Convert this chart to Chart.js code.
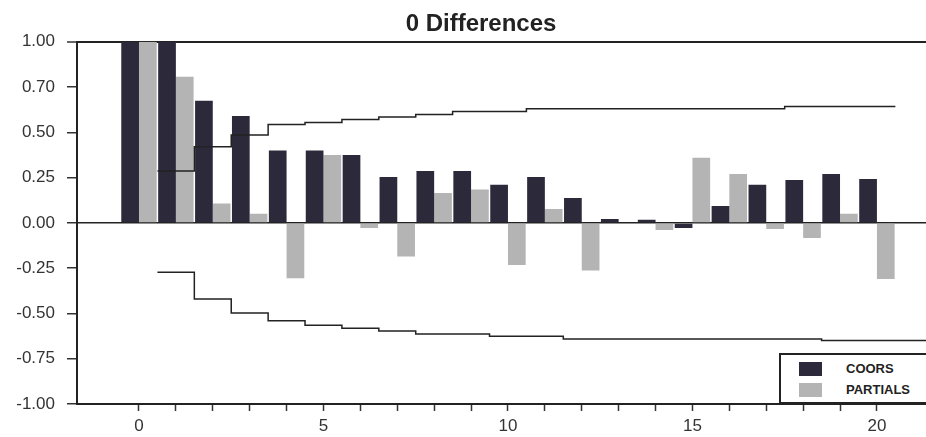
<!DOCTYPE html>
<html>
<head>
<meta charset="utf-8">
<script src="https://cdn.jsdelivr.net/npm/chart.js@4.4.0/dist/chart.umd.min.js"></script>
<style>
    body { margin: 0; background: #fff; }
    #wrap { position: relative; width: 926px; height: 437px; }
    #legenda { position: absolute; left: 779px; top: 353px; width: 160px; height: 47px; border: 2px solid #222; background: #fff;
               font: bold 13px "Liberation Sans", Arial, sans-serif; color: #222; }
    #legenda .item { position: absolute; left: 18px; height: 14px; line-height: 14px; white-space: nowrap; }
    #legenda .cor { display: inline-block; width: 23px; height: 14px; vertical-align: top; margin-right: 24px; }
</style>
</head>
<body>
<div id="wrap">
    <canvas id="mycanvas"></canvas>
    <div id="legenda"></div>
</div>
<script>
// lags
var lags = [0, 1, 2, 3, 4, 5, 6, 7, 8, 9, 10, 11, 12, 13, 14, 15, 16, 17, 18, 19, 20];
var coors = [1.00, 1.00, 0.675, 0.59, 0.40, 0.40, 0.375, 0.254, 0.287, 0.287, 0.21, 0.254, 0.138, 0.022, 0.018, -0.028, 0.094, 0.21, 0.237, 0.27, 0.243];
var partials = [1.00, 0.807, 0.107, 0.05, -0.306, 0.375, -0.028, -0.186, 0.165, 0.184, -0.232, 0.077, -0.263, 0.0, -0.039, 0.36, 0.27, -0.033, -0.083, 0.05, -0.31];

// confidence bands (lag 1..20)
var bandLags = [1, 2, 3, 4, 5, 6, 7, 8, 9, 10, 11, 12, 13, 14, 15, 16, 17, 18, 19, 20];
var upperBand = [0.287, 0.42, 0.486, 0.543, 0.554, 0.571, 0.585, 0.598, 0.615, 0.615, 0.631, 0.631, 0.631, 0.631, 0.631, 0.631, 0.631, 0.643, 0.643, 0.643];
var lowerBand = [-0.272, -0.42, -0.497, -0.54, -0.565, -0.582, -0.597, -0.613, -0.613, -0.626, -0.626, -0.641, -0.641, -0.641, -0.641, -0.641, -0.641, -0.641, -0.65, -0.65];

var yTickValues = [-1, -0.75, -0.5, -0.25, 0, 0.25, 0.5, 0.75, 1];
var yTickLabels = ['-1.00', '-0.75', '-0.50', '-0.25', '0.00', '0.25', '0.50', '0.70', '1.00'];
var xTickLabels = ['0', '5', '10', '15', '20'];

var xMin = -1.68;
var xMax = 21.33;

var corEscura = '#2c2a3a';
var corClara = '#b4b4b4';
var corLinha = '#222';

// monta os pontos
var ptsCoors = [];
var ptsPartials = [];
for (var i in lags) {
    ptsCoors.push({x: lags[i], y: coors[i]});
    ptsPartials.push({x: lags[i], y: partials[i]});
}
var ptsUpper = [];
var ptsLower = [];
for (var j in bandLags) {
    ptsUpper.push({x: bandLags[j] - 0.5, y: upperBand[j]});
    ptsLower.push({x: bandLags[j] - 0.5, y: lowerBand[j]});
}
ptsUpper.push({x: bandLags[bandLags.length - 1] + 0.5, y: upperBand[upperBand.length - 1]});
ptsLower.push({x: xMax, y: lowerBand[lowerBand.length - 1]});

var fonte = '"Liberation Sans", Arial, sans-serif';

var dados = {
    datasets: [
        { type: 'line', label: 'upper', data: ptsUpper, borderColor: corLinha, borderWidth: 1.5, pointRadius: 0, stepped: 'before', fill: false, order: 0 },
        { type: 'line', label: 'lower', data: ptsLower, borderColor: corLinha, borderWidth: 1.5, pointRadius: 0, stepped: 'before', fill: false, order: 0 },
        { label: 'COORS', data: ptsCoors, backgroundColor: corEscura, borderWidth: 0, order: 1 },
        { label: 'PARTIALS', data: ptsPartials, backgroundColor: corClara, borderWidth: 0, order: 1 }
    ]
};

// desloca o titulo um pouco para a direita
var moveTitulo = {
    id: 'moveTitulo',
    afterLayout: function(chart) {
        if (chart.titleBlock) {
            chart.titleBlock.left += 36;
            chart.titleBlock.right += 0;
        }
    }
};

var ctx = document.getElementById('mycanvas');
var grafico = new Chart(ctx, {
    type: 'bar',
    data: dados,
    plugins: [moveTitulo],
    options: {
        responsive: true,
        maintainAspectRatio: false,
        animation: false,
        categoryPercentage: 0.96,
        barPercentage: 1.0,
        layout: { padding: 0 },
        plugins: {
            legend: { display: false },
            tooltip: { enabled: false },
            title: {
                display: true,
                text: '0 Differences',
                color: '#222',
                font: { family: fonte, size: 24, weight: 'bold' },
                padding: { top: 10, bottom: 3 }
            }
        },
        scales: {
            x: {
                type: 'linear',
                min: xMin,
                max: xMax,
                offset: false,
                afterBuildTicks: function(scale) {
                    scale.ticks = lags.map(function(v) { return {value: v}; });
                },
                afterFit: function(scale) { scale.height = 33; },
                ticks: {
                    autoSkip: false,
                    maxRotation: 0,
                    padding: 5,
                    color: '#333',
                    font: { family: fonte, size: 17 },
                    callback: function(v) {
                        var k = xTickLabels.indexOf(String(v));
                        return k >= 0 ? xTickLabels[k] : '';
                    }
                },
                grid: { offset: false, drawOnChartArea: false, drawTicks: true, tickLength: 7, tickColor: '#333', tickWidth: 1.5, color: 'rgba(0,0,0,0)' },
                border: { display: true, color: '#222', width: 2 }
            },
            y: {
                min: -1,
                max: 1,
                afterBuildTicks: function(scale) {
                    scale.ticks = yTickValues.map(function(v) { return {value: v}; });
                },
                afterFit: function(scale) { scale.width = 77; },
                ticks: {
                    padding: 12,
                    color: '#333',
                    font: { family: fonte, size: 17 },
                    callback: function(v, idx) { return yTickLabels[idx]; }
                },
                grid: {
                    drawTicks: true,
                    tickLength: 10,
                    tickColor: '#333',
                    tickWidth: 1.5,
                    color: function(c) {
                        if (c.tick && (c.tick.value === 0 || c.tick.value === 1)) return '#222';
                        return 'rgba(0,0,0,0)';
                    },
                    lineWidth: function(c) {
                        if (c.tick && c.tick.value === 1) return 2;
                        return 1.5;
                    }
                },
                border: { display: true, color: '#222', width: 2 }
            }
        }
    }
});

// legenda em html
var legenda = document.getElementById('legenda');
var tops = [7, 28];
var barras = [dados.datasets[2], dados.datasets[3]];
for (var b in barras) {
    var d = document.createElement('div');
    d.className = 'item';
    d.style.top = tops[b] + 'px';
    d.innerHTML = '<span class="cor" style="background:' + barras[b].backgroundColor + '"></span>' + barras[b].label;
    legenda.appendChild(d);
}
</script>
</body>
</html>
